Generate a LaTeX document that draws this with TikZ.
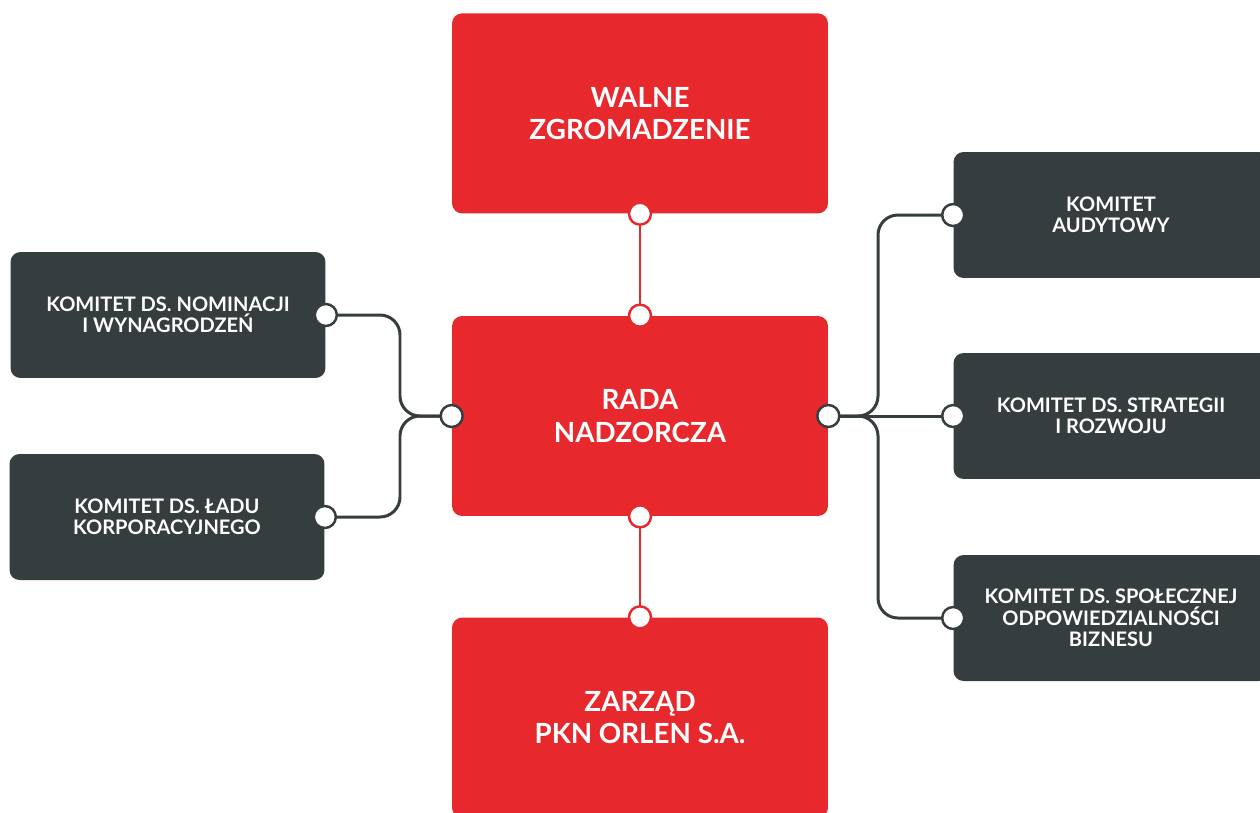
\documentclass[tikz,border=0pt]{standalone}
\usepackage{fontspec}
\setsansfont{Lato}
\usetikzlibrary{positioning}

\definecolor{orlenred}{HTML}{E7282D}
\definecolor{grafit}{HTML}{363D3F}

\begin{document}
\begin{tikzpicture}[
    x=0.02cm, y=-0.02cm,
    organ/.style={rectangle, rounded corners=0.2cm, align=center, minimum width=7.52cm, minimum height=4cm, fill=orlenred, text=white, font=\sffamily\bfseries\fontsize{15.8}{18.4}\selectfont},
    komitet/.style={rectangle, rounded corners=0.2cm, align=center, minimum width=6.3cm, minimum height=2.52cm, fill=grafit, text=white, font=\sffamily\bfseries\fontsize{11.4}{12.2}\selectfont},
    redlink/.style={draw=orlenred, line width=1.3pt},
    greylink/.style={draw=grafit, line width=1.7pt, rounded corners=0.4cm},
    port/.style={circle, draw=#1, fill=white, line width=1.4pt, minimum size=0.44cm, inner sep=0pt}
]
\clip (0,0) rectangle (1260,812);

% Organy spolki
\node (rada) [organ] at (640,416) {RADA\\NADZORCZA};
\node (walne) [organ, above=2.04cm of rada] {WALNE\\ZGROMADZENIE};
\node (zarzad) [organ, below=2.02cm of rada] {ZARZĄD\\PKN ORLEN S.A.};

% Komitety
\node (nominacje) [komitet] at (168,315) {KOMITET DS. NOMINACJI\\I WYNAGRODZEŃ};
\node (lad) [komitet] at (167,517) {KOMITET DS. ŁADU\\KORPORACYJNEGO};
\node (audyt) [komitet] at (1111,215) {KOMITET\\AUDYTOWY};
\node (strategia) [komitet] at (1111,416) {KOMITET DS. STRATEGII\\I ROZWOJU};
\node (csr) [komitet] at (1111,618) {KOMITET DS. SPOŁECZNEJ\\ODPOWIEDZIALNOŚCI\\BIZNESU};

% Polaczenia
\coordinate (busL) at (400,416);
\coordinate (busR) at (878,416);
\draw [redlink] (walne.south) -- (rada.north);
\draw [redlink] (rada.south) -- (zarzad.north);
\draw [greylink] (rada.west) -- (busL) |- (nominacje.east);
\draw [greylink] (rada.west) -- (busL) |- (lad.east);
\draw [greylink] (rada.east) -- (busR) |- (audyt.west);
\draw [greylink] (rada.east) -- (strategia.west);
\draw [greylink] (rada.east) -- (busR) |- (csr.west);

% Punkty styku
\node (p-walne) [port=orlenred] at (walne.south) {};
\node (p-rada-n) [port=orlenred] at (rada.north) {};
\node (p-rada-s) [port=orlenred] at (rada.south) {};
\node (p-zarzad) [port=orlenred] at (zarzad.north) {};
\node (p-rada-w) [port=grafit] at (rada.west) {};
\node (p-rada-e) [port=grafit] at (rada.east) {};
\node (p-nominacje) [port=grafit] at (nominacje.east) {};
\node (p-lad) [port=grafit] at (lad.east) {};
\node (p-audyt) [port=grafit] at (audyt.west) {};
\node (p-strategia) [port=grafit] at (strategia.west) {};
\node (p-csr) [port=grafit] at (csr.west) {};

\end{tikzpicture}
\end{document}
